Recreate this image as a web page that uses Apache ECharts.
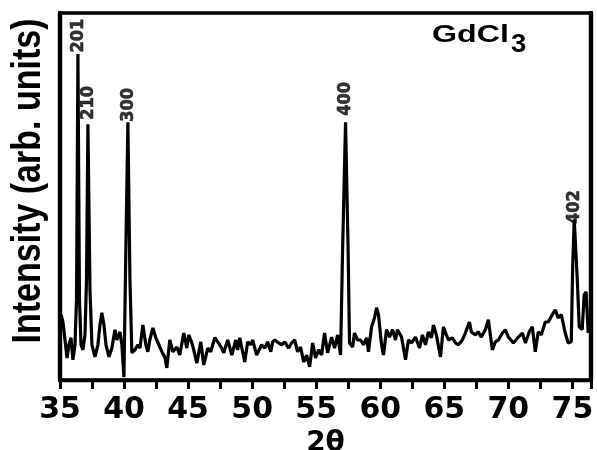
<!DOCTYPE html>
<html>
<head>
<meta charset="utf-8">
<script src="https://cdn.jsdelivr.net/npm/echarts@6/dist/echarts.min.js"></script>
<style>
  html, body { margin: 0; padding: 0; background: #fff; }
  #chart { width: 597px; height: 450px; }
</style>
</head>
<body>
<div id="chart"></div>
<script>
// XRD scan of GdCl3: diffraction angle (2θ, degrees) and intensity (arb. units)
const twoTheta = [
  35.08,35.23,35.39,35.55,35.70,35.86,36.01,36.17,36.29,36.40,
  36.52,36.64,36.79,36.95,37.07,37.18,37.34,37.49,37.73,37.96,
  38.12,38.27,38.43,38.59,38.82,39.05,39.29,39.44,39.68,39.83,
  39.99,40.14,40.30,40.46,40.61,40.85,41.08,41.24,41.47,41.70,
  41.86,42.01,42.25,42.48,42.72,42.95,43.18,43.34,43.57,43.81,
  44.12,44.35,44.66,44.90,45.05,45.29,45.44,45.68,45.99,46.22,
  46.54,46.77,47.08,47.31,47.63,47.78,48.09,48.41,48.72,48.87,
  49.03,49.42,49.65,49.89,50.04,50.35,50.74,50.98,51.21,51.45,
  51.60,51.76,52.07,52.30,52.54,52.85,53.08,53.32,53.55,53.78,
  54.02,54.25,54.49,54.72,54.95,55.19,55.42,55.65,55.89,56.20,
  56.43,56.67,56.90,57.06,57.29,57.49,57.60,57.84,57.99,58.23,
  58.46,58.69,58.93,59.08,59.32,59.55,59.71,59.86,60.10,60.25,
  60.49,60.72,60.96,61.19,61.34,61.66,61.97,62.20,62.44,62.75,
  63.06,63.29,63.53,63.76,63.99,64.15,64.38,64.70,64.93,65.16,
  65.32,65.63,65.87,66.10,66.41,66.64,66.96,67.11,67.42,67.65,
  67.89,68.20,68.44,68.59,68.75,68.98,69.22,69.53,69.76,70.00,
  70.39,70.78,71.09,71.33,71.63,71.87,72.10,72.33,72.57,72.88,
  73.11,73.43,73.66,73.89,74.13,74.44,74.67,74.91,75.02,75.14,
  75.37,75.53,75.76,75.92,76.07,76.23,76.30
];
const intensity = [
  17.8,15.8,10.9,6.0,9.6,11.5,5.5,9.6,21.9,88.8,
  21.9,9.6,8.2,12.3,27.3,69.7,24.6,9.6,6.3,9.6,
  15.0,18.3,15.0,9.6,6.3,8.7,13.7,10.9,13.1,9.6,
  0.8,35.5,70.2,27.3,7.4,8.2,9.6,8.7,15.0,9.6,
  7.7,10.9,14.2,11.5,9.6,7.7,6.3,3.3,10.9,7.7,
  9.0,6.8,12.8,8.7,12.3,10.1,8.2,4.6,10.4,4.1,
  8.7,7.7,11.5,10.4,8.7,7.4,10.9,6.8,10.9,8.2,
  11.5,4.9,10.4,9.6,10.9,6.8,9.6,8.7,10.4,7.7,
  10.4,10.9,10.1,9.6,10.4,8.7,10.1,10.9,7.7,9.0,
  4.9,6.8,3.6,10.1,6.0,8.2,6.8,12.8,7.4,11.7,
  8.7,12.3,6.8,35.5,70.2,35.5,10.1,9.0,12.8,10.9,
  10.9,9.6,11.5,7.7,14.5,16.9,19.7,17.8,9.6,6.8,
  13.7,11.7,13.7,10.9,13.7,11.7,5.5,10.9,10.1,11.7,
  8.7,12.3,9.6,13.1,11.5,15.0,12.3,6.3,14.5,12.3,
  10.9,11.5,10.1,9.6,10.9,12.8,15.8,13.1,12.3,13.1,
  11.7,13.7,16.4,12.3,8.2,10.4,10.9,12.8,13.7,11.7,
  10.1,11.7,12.8,10.1,13.1,14.5,7.7,13.1,12.3,15.8,
  15.8,17.8,19.1,16.9,17.8,12.8,10.1,10.4,30.9,43.7,
  28.1,14.5,13.7,23.2,24.0,12.8,16.4
];

// Indexed reflections (Miller indices) and their peak positions
const peakAngles = [36.40, 37.18, 40.30, 57.29, 75.14];
const peakLabels = ['201', '210', '300', '400', '402'];

// Axis range and tick labels
const xMin = 35, xMax = 76.45, xTickStep = 2.5;
const xTickLabels = [35, 40, 45, 50, 55, 60, 65, 70, 75];

// Label placement tweaks (pixels) for each reflection tag
const tagShiftX = [3, 6, 0, 1, -5];
const tagGap = [-2, -2, 0, 5, 0];

const chart = echarts.init(document.getElementById('chart'), null, { renderer: 'canvas' });

const curve = twoTheta.map((t, i) => [t, intensity[i]]);
const tags = peakAngles.map((a, k) => ({
  value: [a, intensity[twoTheta.indexOf(a)]],
  label: {
    formatter: peakLabels[k],
    offset: [tagShiftX[k], 0],
    distance: tagGap[k]
  }
}));

const option = {
  animation: false,
  backgroundColor: '#fff',
  grid: {
    left: 60, right: 6, top: 13, bottom: 70,
    outerBoundsMode: 'none',
    show: true, borderColor: '#000', borderWidth: 3.4,
    backgroundColor: 'transparent'
  },
  xAxis: {
    type: 'value',
    min: xMin, max: xMax, interval: xTickStep,
    name: '2θ',
    nameLocation: 'middle',
    nameGap: 44,
    nameTextStyle: { fontFamily: 'DejaVu Sans', fontWeight: 'bold', fontSize: 28, color: '#000' },
    axisLine: { show: true, lineStyle: { color: '#000', width: 3.4 } },
    axisTick: { show: true, inside: false, length: 9, lineStyle: { color: '#000', width: 3 } },
    axisLabel: {
      margin: 15,
      fontFamily: 'DejaVu Sans', fontWeight: 'bold', fontSize: 30, color: '#000',
      formatter: v => (xTickLabels.indexOf(v) >= 0 ? String(v) : '')
    },
    splitLine: { show: false }
  },
  yAxis: [
    {
      type: 'value', min: 0, max: 100, position: 'left',
      axisLine: { show: true, lineStyle: { color: '#000', width: 4.4 } },
      axisTick: { show: false }, axisLabel: { show: false }, splitLine: { show: false }
    },
    {
      type: 'value', min: 0, max: 100, position: 'right',
      axisLine: { show: true, lineStyle: { color: '#000', width: 4.4 } },
      axisTick: { show: false }, axisLabel: { show: false }, splitLine: { show: false }
    }
  ],
  series: [
    {
      type: 'line',
      data: curve,
      showSymbol: false,
      symbol: 'none',
      lineStyle: { color: '#000', width: 3.2 },
      z: 2
    },
    {
      type: 'scatter',
      data: tags,
      symbolSize: 1,
      itemStyle: { color: 'rgba(0,0,0,0)' },
      label: {
        show: true,
        position: 'top',
        rotate: 90,
        align: 'left',
        verticalAlign: 'middle',
        fontFamily: '"DejaVu Sans Condensed", "Liberation Sans"',
        fontWeight: 'bold', fontSize: 18, color: '#000',
        textBorderColor: '#000', textBorderWidth: 0.6
      },
      z: 3
    }
  ],
  graphic: [
    {
      type: 'text',
      x: 29, y: 181,
      rotation: Math.PI / 2,
      scaleY: 1.2,
      style: {
        text: 'Intensity (arb. units)',
        font: 'bold 34px "Liberation Sans"',
        fill: '#000',
        textAlign: 'center',
        textVerticalAlign: 'middle'
      }
    },
    {
      type: 'text',
      x: 432, y: 24,
      scaleX: 1.4,
      style: {
        text: 'GdCl',
        font: 'bold 23px "Liberation Sans"',
        fill: '#000',
        textAlign: 'left',
        textVerticalAlign: 'top'
      }
    },
    {
      type: 'text',
      x: 511, y: 33,
      scaleX: 1.1,
      style: {
        text: '3',
        font: 'bold 25px "Liberation Sans"',
        fill: '#000',
        textAlign: 'left',
        textVerticalAlign: 'top'
      }
    }
  ]
};

chart.setOption(option);
</script>
</body>
</html>
